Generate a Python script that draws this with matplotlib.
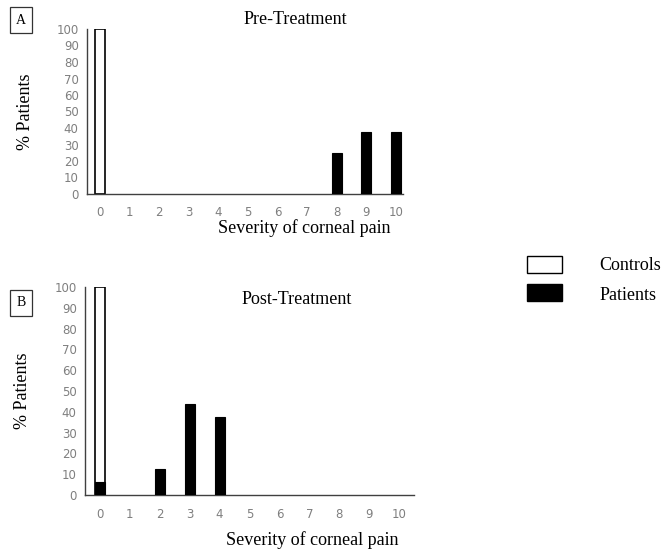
import numpy as np
import matplotlib.pyplot as plt
import matplotlib.patches as patches

severity = list(range(11))
controls_pre = [100, 0, 0, 0, 0, 0, 0, 0, 0, 0, 0]
patients_pre = [0, 0, 0, 0, 0, 0, 0, 0, 25, 37.5, 37.5]
controls_post = [100, 0, 0, 0, 0, 0, 0, 0, 0, 0, 0]
patients_post = [6.25, 0, 12.5, 43.75, 37.5, 0, 0, 0, 0, 0, 0]
yticks = list(range(0, 101, 10))

serif = 'Liberation Serif'
tick_col = '#7f7f7f'

fig = plt.figure(figsize=(6.64, 5.53), dpi=100)

def panel(rect, xlim, ctrl, pat, lpad):
    ax = fig.add_axes(rect)
    x = np.array(severity)
    ctrl = np.array(ctrl)
    pat = np.array(pat)
    # skip empty categories so no outline shows on the axis
    c = ctrl > 0
    p = pat > 0
    ax.bar(x[c], ctrl[c], width=0.34, color='white', edgecolor='black', linewidth=1.2, zorder=2)
    ax.bar(x[p], pat[p], width=0.34, color='black', edgecolor='black', linewidth=0.8, zorder=3)
    ax.set_xlim(*xlim)
    ax.set_ylim(0, 100)
    ax.set_xticks(severity)
    ax.set_yticks(yticks)
    ax.tick_params(length=0, labelsize=8.5, colors=tick_col, pad=6)
    ax.tick_params(axis='x', pad=9)
    for s in ['top', 'right']:
        ax.spines[s].set_visible(False)
    for s in ['left', 'bottom']:
        ax.spines[s].set_color('#404040')
        ax.spines[s].set_linewidth(1.0)
    ax.set_ylabel('% Patients', fontfamily=serif, fontsize=13, labelpad=lpad)
    return ax

axA = panel([87/664, 1-194/553, 316/664, 165/553], (-0.45, 10.25), controls_pre, patients_pre, 16)
axB = panel([85/664, 1-495/553, 329/664, 208/553], (-0.5, 10.5), controls_post, patients_post, 17)

fig.text(295/664, 1-19/553, 'Pre-Treatment', fontfamily=serif, fontsize=13, ha='center', va='center')
fig.text(297/664, 1-300/553, 'Post-Treatment', fontfamily=serif, fontsize=13, ha='center', va='center')
fig.text(304/664, 1-228/553, 'Severity of corneal pain', fontfamily=serif, fontsize=13, ha='center', va='center')
fig.text(312/664, 1-540/553, 'Severity of corneal pain', fontfamily=serif, fontsize=13, ha='center', va='center')

# panel letters in boxes
for lab, y in [('A', 20), ('B', 303)]:
    fig.text(21/664, 1-y/553, lab, fontfamily=serif, fontsize=10, ha='center', va='center',
             bbox=dict(boxstyle='square,pad=0.45', fc='white', ec='#333333', lw=0.9))

# legend
fig.patches.append(patches.Rectangle((527/664, 1-273/553), 35/664, 17/553, transform=fig.transFigure,
                                     fc='white', ec='black', lw=1.0))
fig.patches.append(patches.Rectangle((527/664, 1-301/553), 35/664, 17/553, transform=fig.transFigure,
                                     fc='black', ec='black', lw=1.0))
fig.text(599/664, 1-265/553, 'Controls', fontfamily=serif, fontsize=13, ha='left', va='center')
fig.text(600/664, 1-296/553, 'Patients', fontfamily=serif, fontsize=13, ha='left', va='center')

fig.savefig('out.png', dpi=100)
